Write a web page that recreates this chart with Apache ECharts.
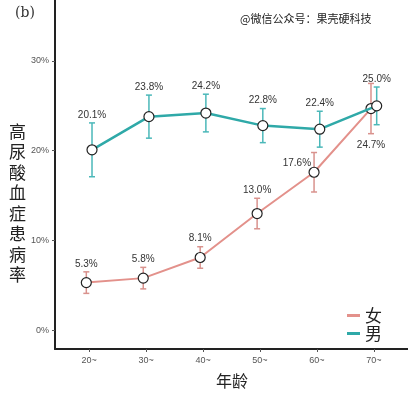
<!DOCTYPE html>
<html>
<head>
<meta charset="utf-8">
<script src="https://cdn.jsdelivr.net/npm/echarts@6/dist/echarts.min.js"></script>
<style>
  html, body { margin: 0; padding: 0; background: #fff; }
  #chart { width: 408px; height: 397px; }
</style>
</head>
<body>
<div id="chart"></div>
<script>
// 年龄组
var ages = [20, 30, 40, 50, 60, 70];
var ageLabels = ['20~', '30~', '40~', '50~', '60~', '70~'];
// 患病率 (%)
var femaleRate = [5.3, 5.8, 8.1, 13.0, 17.6, 24.7];
var maleRate = [20.1, 23.8, 24.2, 22.8, 22.4, 25.0];
// 误差 (±%)
var femaleErr = [1.2, 1.2, 1.2, 1.7, 2.2, 2.8];
var maleErr = [3.0, 2.4, 2.1, 1.9, 2.0, 2.1];
// 标签位置: 0 上方, 1 下方, 2 左侧
var femaleLabelPos = [0, 0, 0, 0, 2, 1];
var maleLabelPos = [0, 0, 0, 0, 0, 0];
var yTicks = [0, 10, 20, 30];

var femaleColor = '#e3918b';
var maleColor = '#2fa9a8';
var dodge = 0.5;

function build(rate, err, pos, shift) {
  return ages.map(function (a, i) {
    return [a + shift, rate[i], err[i], pos[i]];
  });
}

function errorItem(color) {
  return function (params, api) {
    var x = api.value(0), v = api.value(1), e = api.value(2), pos = api.value(3);
    var top = api.coord([x, v + e]);
    var bot = api.coord([x, v - e]);
    var lineStyle = { stroke: color, lineWidth: 1.5 };
    var ts = { text: v.toFixed(1) + '%', fill: '#333', font: '10px "Liberation Sans", sans-serif' };
    if (pos === 0) {
      ts.x = top[0]; ts.y = top[1] - 3; ts.align = 'center'; ts.verticalAlign = 'bottom';
    } else if (pos === 1) {
      ts.x = bot[0]; ts.y = bot[1] + 7; ts.align = 'center'; ts.verticalAlign = 'top';
    } else {
      ts.x = top[0] - 3; ts.y = top[1] + 11; ts.align = 'right'; ts.verticalAlign = 'middle';
    }
    return {
      type: 'group',
      children: [
        { type: 'line', shape: { x1: top[0], y1: top[1], x2: bot[0], y2: bot[1] }, style: lineStyle },
        { type: 'line', shape: { x1: top[0] - 3, y1: top[1], x2: top[0] + 3, y2: top[1] }, style: lineStyle },
        { type: 'line', shape: { x1: bot[0] - 3, y1: bot[1], x2: bot[0] + 3, y2: bot[1] }, style: lineStyle },
        { type: 'text', style: ts }
      ]
    };
  };
}

var femaleData = build(femaleRate, femaleErr, femaleLabelPos, -dodge);
var maleData = build(maleRate, maleErr, maleLabelPos, dodge);

var myChart = echarts.init(document.getElementById('chart'));
myChart.setOption({
  animation: false,
  grid: { left: 55, right: 0, top: 0, bottom: 48 },
  xAxis: {
    type: 'value',
    min: 14,
    max: 76,
    axisLine: { onZero: false, lineStyle: { color: '#222', width: 2 } },
    axisTick: { show: true, customValues: ages, length: 3, lineStyle: { color: '#555' } },
    axisLabel: {
      customValues: ages,
      color: '#555',
      fontSize: 9,
      margin: 7,
      formatter: function (v) { return ageLabels[ages.indexOf(v)]; }
    },
    splitLine: { show: false }
  },
  yAxis: {
    type: 'value',
    min: -2.1,
    max: 36.8,
    axisLine: { show: true, onZero: false, lineStyle: { color: '#222', width: 2 } },
    axisTick: { show: true, customValues: yTicks, length: 3, lineStyle: { color: '#555' } },
    axisLabel: {
      customValues: yTicks,
      color: '#555',
      fontSize: 9,
      margin: 6,
      formatter: function (v) { return v + '%'; }
    },
    splitLine: { show: false }
  },
  legend: {
    orient: 'vertical',
    left: 342,
    top: 302,
    itemWidth: 13,
    itemHeight: 3,
    itemGap: 1,
    icon: 'rect',
    textStyle: { fontSize: 17, lineHeight: 12, color: '#222', fontFamily: 'Noto Sans CJK SC' },
    data: [
      { name: '女', itemStyle: { color: femaleColor, borderWidth: 0 } },
      { name: '男', itemStyle: { color: maleColor, borderWidth: 0 } }
    ]
  },
  graphic: [
    { type: 'text', left: 15, top: 6, style: { text: '(b)', font: '14px "DejaVu Serif", serif', fill: '#333' } },
    { type: 'text', left: 240, top: 13, style: { text: '@微信公众号：果壳硬科技', font: '11px "Noto Sans CJK SC"', fill: '#222' } },
    {
      type: 'text', left: 9, top: 121,
      style: { text: '高\n尿\n酸\n血\n症\n患\n病\n率', font: '17px "Noto Sans CJK SC"', lineHeight: 20.5, fill: '#222' }
    },
    { type: 'text', left: 216, top: 373, style: { text: '年龄', font: '16px "Noto Sans CJK SC"', fill: '#222' } }
  ],
  series: [
    {
      type: 'custom',
      name: 'femaleErr',
      data: femaleData,
      renderItem: errorItem('#d9928d'),
      z: 1
    },
    {
      type: 'custom',
      name: 'maleErr',
      data: maleData,
      renderItem: errorItem('#4bb8b9'),
      z: 1
    },
    {
      name: '女',
      type: 'line',
      data: femaleData,
      color: femaleColor,
      lineStyle: { color: femaleColor, width: 2 },
      symbol: 'circle',
      symbolSize: 10,
      itemStyle: { color: '#fff', borderColor: '#222', borderWidth: 1.2 },
      z: 3
    },
    {
      name: '男',
      type: 'line',
      data: maleData,
      color: maleColor,
      lineStyle: { color: maleColor, width: 2.5 },
      symbol: 'circle',
      symbolSize: 10,
      itemStyle: { color: '#fff', borderColor: '#222', borderWidth: 1.2 },
      z: 4
    }
  ]
});
window.onresize = function () {
  myChart.resize();
};
</script>
</body>
</html>
